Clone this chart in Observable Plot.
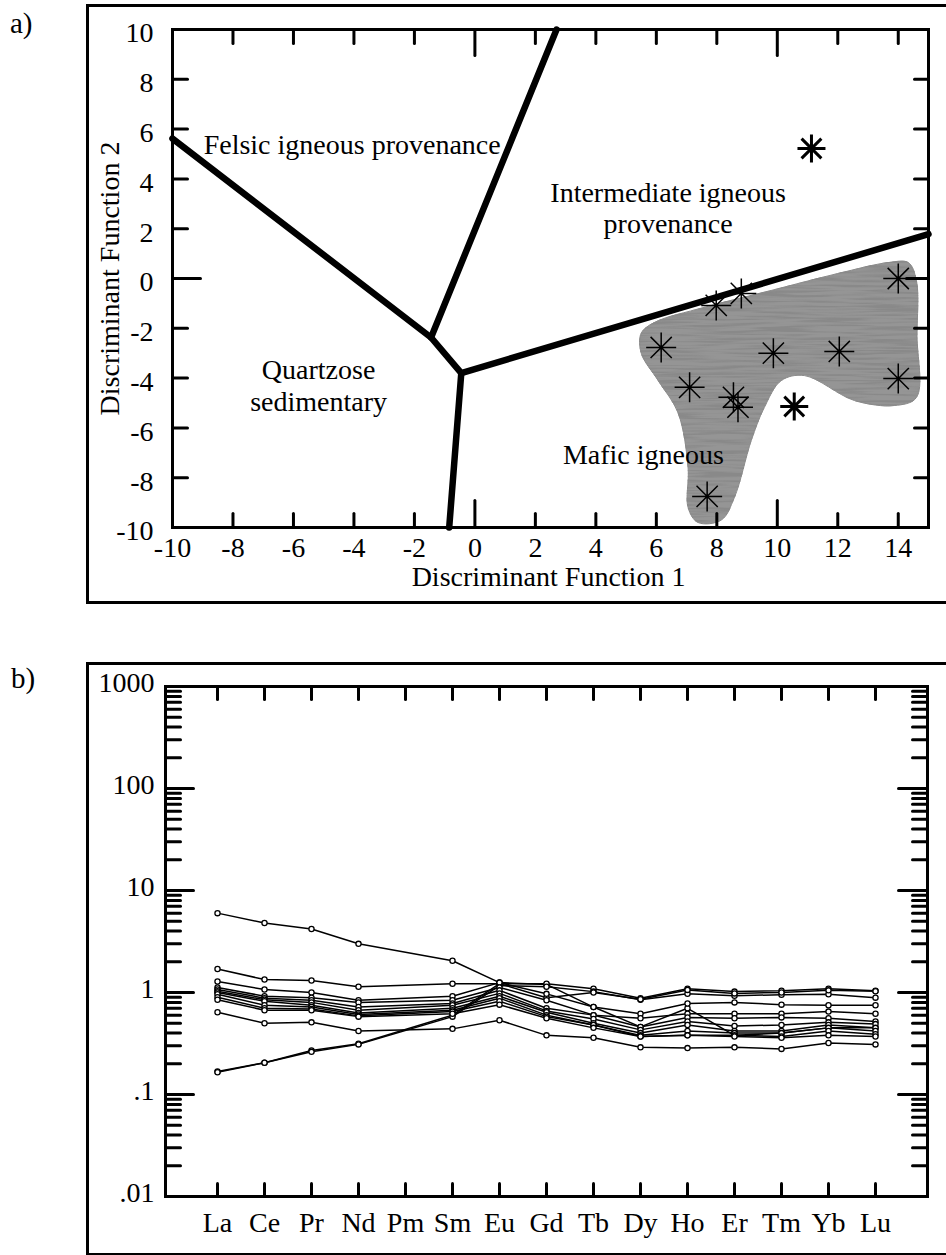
<!DOCTYPE html>
<html>
<head>
<meta charset="utf-8">
<script src="https://cdn.jsdelivr.net/npm/d3@7"></script>
<script src="https://cdn.jsdelivr.net/npm/@observablehq/plot@0.6"></script>
<style>
  body { margin: 0; background: #fff; }
  #page { position: relative; width: 946px; height: 1255px; overflow: hidden; font-family: "Liberation Serif", "Times New Roman", serif; color: #000; }
  .box { position: absolute; border: 3px solid #000; box-sizing: border-box; }
  .tag { position: absolute; font-size: 29px; line-height: 1; }
  .chart { position: absolute; }
</style>
</head>
<body>
<div id="page">
  <div class="tag" style="left:10px;top:9px">a)</div>
  <div class="box" style="left:86px;top:4px;width:900px;height:600px"></div>
  <div id="chartA" class="chart" style="left:87px;top:5px"></div>
  <div class="tag" style="left:11px;top:664px">b)</div>
  <div class="box" style="left:86px;top:662px;width:900px;height:594px"></div>
  <div id="chartB" class="chart" style="left:87px;top:663px"></div>
</div>
<script>
// ---------------- Panel a data ----------------
const df1Ticks = [-10, -8, -6, -4, -2, 0, 2, 4, 6, 8, 10, 12, 14];
const df2Ticks = [-10, -8, -6, -4, -2, 0, 2, 4, 6, 8, 10];
const df1Major = [-10, 0, 10];
const df2Major = [-10, 0, 10];

// field boundaries (polylines in discriminant-function space)
const boundaryId = [0, 0, 0, 0, 1, 1, 2, 2];
const boundaryF1 = [-10, -1.45, -0.45, 15, -1.45, 2.7, -0.45, -0.85];
const boundaryF2 = [5.62, -2.37, -3.8, 1.78, -2.37, 10, -3.8, -10];

// shaded sample field outline
const fieldF1 = [5.93, 7.58, 9.8, 12.0, 13.67, 14.33, 14.6, 14.62, 14.6, 13.87, 12.55, 10.9, 10.13, 9.57, 9.14, 8.58, 8.15, 7.38, 7.05, 7.05, 6.72, 6.06, 5.5, 5.5];
const fieldF2 = [-1.77, -1.16, -0.48, 0.2, 0.64, 0.64, -0.08, -2.3, -4.78, -5.1, -4.9, -3.9, -4.1, -5.18, -6.5, -8.8, -9.7, -9.8, -9.2, -7.6, -5.4, -4.1, -3.0, -2.2];

// samples inside the shaded field
const inF1 = [14.0, 8.81, 7.98, 6.16, 9.87, 12.05, 14.0, 7.1, 8.55, 8.7, 7.68];
const inF2 = [0.0, -0.6, -1.08, -2.77, -3.0, -2.93, -4.02, -4.37, -4.77, -5.17, -8.75];
// samples outside the shaded field
const outF1 = [11.13, 10.56];
const outF2 = [5.22, -5.14];

const regionNames = ["Felsic igneous provenance", "Mafic igneous", "Intermediate igneous\nprovenance", "Quartzose\nsedimentary"];
const regionF1 = [-8.97, 2.91, 6.39, -5.17];
const regionF2 = [5.37, -7.08, 2.85, -4.27];

// ---------------- Panel b data ----------------
const elements = ["La", "Ce", "Pr", "Nd", "Pm", "Sm", "Eu", "Gd", "Tb", "Dy", "Ho", "Er", "Tm", "Yb", "Lu"];
const sample01 = [6.0, 4.8, 4.2, 3.0, null, 2.05, 1.25, 1.2, 0.72, 0.46, 0.70, 0.38, 0.40, 0.45, 0.45];
const sample02 = [0.168, 0.205, 0.27, 0.315, null, 0.60, 1.22, 1.22, 1.09, 0.88, 1.09, 1.02, 1.04, 1.09, 1.04];
const sample03 = [0.165, 0.205, 0.262, 0.31, null, 0.58, 1.17, 1.14, 1.02, 0.85, 0.97, 0.93, 0.95, 0.96, 0.89];
const sample04 = [1.7, 1.34, 1.31, 1.14, null, 1.22, 1.22, 0.89, 1.0, 0.86, 1.06, 0.98, 1.0, 1.05, 1.03];
const sample05 = [0.64, 0.50, 0.51, 0.42, null, 0.44, 0.535, 0.38, 0.36, 0.29, 0.285, 0.29, 0.28, 0.32, 0.31];
const sample06 = [1.28, 1.07, 1.0, 0.84, null, 0.92, 1.25, 0.97, 0.72, 0.62, 0.78, 0.80, 0.76, 0.75, 0.75];
const sample07 = [1.12, 0.92, 0.89, 0.80, null, 0.84, 1.12, 0.84, 0.60, 0.56, 0.62, 0.62, 0.62, 0.65, 0.62];
const sample08 = [1.07, 0.88, 0.84, 0.72, null, 0.78, 1.05, 0.70, 0.60, 0.46, 0.57, 0.56, 0.57, 0.56, 0.52];
const sample09 = [1.03, 0.85, 0.80, 0.67, null, 0.75, 0.98, 0.66, 0.55, 0.43, 0.52, 0.47, 0.48, 0.51, 0.49];
const sample10 = [1.0, 0.82, 0.75, 0.63, null, 0.70, 0.92, 0.64, 0.50, 0.40, 0.48, 0.42, 0.42, 0.48, 0.45];
const sample11 = [0.96, 0.75, 0.72, 0.61, null, 0.67, 0.88, 0.60, 0.48, 0.38, 0.42, 0.40, 0.40, 0.45, 0.42];
const sample12 = [0.90, 0.70, 0.69, 0.59, null, 0.65, 0.82, 0.58, 0.48, 0.37, 0.38, 0.38, 0.37, 0.42, 0.39];
const sample13 = [0.85, 0.67, 0.67, 0.58, null, 0.62, 0.76, 0.56, 0.45, 0.37, 0.38, 0.37, 0.36, 0.38, 0.37];
const logTicks = [0.01, 0.1, 1, 10, 100, 1000];

// ---------------- helpers ----------------
const tickShape = { draw(ctx, l) { ctx.moveTo(0, 0); ctx.lineTo(0, -l); } };
const star8 = {
  draw(ctx, size) {
    const r = Math.sqrt(size / Math.PI), d = r * Math.SQRT1_2;
    ctx.moveTo(-r, 0); ctx.lineTo(r, 0);
    ctx.moveTo(0, -r); ctx.lineTo(0, r);
    ctx.moveTo(-d, -d); ctx.lineTo(d, d);
    ctx.moveTo(-d, d); ctx.lineTo(d, -d);
  }
};
function ticksX(values, len, side) {
  return Plot.vector(values, { x: d => d, frameAnchor: side, length: len, rotate: side === "bottom" ? 0 : 180, anchor: "start", shape: tickShape, stroke: "black", strokeWidth: 3 });
}
function ticksY(values, len, side) {
  return Plot.vector(values, { y: d => d, frameAnchor: side, length: len, rotate: side === "left" ? 90 : -90, anchor: "start", shape: tickShape, stroke: "black", strokeWidth: 3 });
}

// ---------------- Panel a ----------------
const FIELD_GRAY = "#959595";
const boundary = boundaryF1.map((x, i) => ({ id: boundaryId[i], x, y: boundaryF2[i] }));
const field = fieldF1.map((x, i) => ({ x, y: fieldF2[i] }));
const df1Minor = df1Ticks.filter(t => !df1Major.includes(t));
const df2Minor = df2Ticks.filter(t => !df2Major.includes(t));

const chartA = Plot.plot({
  width: 859, height: 597,
  marginLeft: 85, marginTop: 24, marginRight: 18, marginBottom: 75,
  x: { domain: [-10, 15] },
  y: { domain: [-10, 10] },
  style: { fontFamily: "Liberation Serif, Times New Roman, serif", fontSize: "28px", color: "black", background: "transparent", overflow: "visible" },
  marks: [
    Plot.line(field, { x: "x", y: "y", curve: "catmull-rom-closed", fill: FIELD_GRAY, stroke: "#8a8a8a", strokeWidth: 1 }),
    Plot.line(boundary, { x: "x", y: "y", z: "id", stroke: "black", strokeWidth: 6.5, strokeLinejoin: "miter" }),
    Plot.text(regionNames.slice(0, 2), { x: regionF1.slice(0, 2), y: regionF2.slice(0, 2), textAnchor: "start", lineAnchor: "middle", fill: "black" }),
    Plot.text(regionNames.slice(2), { x: regionF1.slice(2), y: regionF2.slice(2), textAnchor: "middle", lineAnchor: "middle", lineHeight: 1.12, fill: "black" }),
    Plot.dot(inF1, { x: inF1, y: inF2, symbol: star8, r: 15, fill: "none", stroke: "black", strokeWidth: 1.5 }),
    Plot.dot(outF1, { x: outF1, y: outF2, symbol: star8, r: 14, fill: "none", stroke: "black", strokeWidth: 3 }),
    Plot.frame({ stroke: "black", strokeWidth: 3 }),
    ticksX(df1Minor, 14, "bottom"), ticksX(df1Major, 27, "bottom"),
    ticksX(df1Minor, 14, "top"), ticksX(df1Major, 26, "top"),
    ticksY(df2Minor, 15, "left"), ticksY(df2Major, 28, "left"),
    ticksY(df2Minor, 14, "right"), ticksY(df2Major, 22, "right"),
    Plot.axisX({ ticks: df1Ticks, tickSize: 0, tickPadding: 10, tickFormat: d => String(d), label: null }),
    Plot.axisY({ ticks: df2Ticks, tickSize: 0, tickPadding: 19, dy: 4, tickFormat: d => String(d), label: null }),
    Plot.text(["Discriminant Function 1"], { frameAnchor: "bottom", dy: 50, dx: -2, textAnchor: "middle", lineAnchor: "middle", fill: "black" }),
    Plot.text(["Discriminant Function 2"], { frameAnchor: "left", dx: -62, rotate: -90, textAnchor: "middle", lineAnchor: "middle", fill: "black" })
  ]
});

// streaky texture for the shaded field
{
  const svg = d3.select(chartA);
  const defs = svg.insert("defs", ":first-child");
  const f = defs.append("filter").attr("id", "streaks").attr("x", "-5%").attr("y", "-5%").attr("width", "110%").attr("height", "110%");
  f.append("feTurbulence").attr("type", "fractalNoise").attr("baseFrequency", "0.018 0.4").attr("numOctaves", 2).attr("seed", 7).attr("result", "noise");
  f.append("feColorMatrix").attr("in", "noise").attr("type", "matrix")
    .attr("values", "0 0 0 0 0.25  0 0 0 0 0.25  0 0 0 0 0.25  3.6 0 0 0 -1.45").attr("result", "dark");
  f.append("feComposite").attr("in", "dark").attr("in2", "SourceGraphic").attr("operator", "in").attr("result", "clipped");
  const m = f.append("feMerge");
  m.append("feMergeNode").attr("in", "SourceGraphic");
  m.append("feMergeNode").attr("in", "clipped");
  svg.selectAll("[fill]").filter(function () { return this.getAttribute("fill") === FIELD_GRAY; }).attr("filter", "url(#streaks)");
}
document.getElementById("chartA").append(chartA);

// ---------------- Panel b ----------------
const samples = [sample01, sample02, sample03, sample04, sample05, sample06, sample07, sample08, sample09, sample10, sample11, sample12, sample13];
const ree = samples.flatMap((vals, s) => vals.map((v, i) => ({ sample: s, el: elements[i], v })).filter(d => d.v != null));
const minorLog = [];
for (const decade of [0.01, 0.1, 1, 10, 100]) for (let m = 2; m <= 9; m++) minorLog.push(+(decade * m).toPrecision(3));

const chartB = Plot.plot({
  width: 859, height: 590,
  marginLeft: 78, marginTop: 23, marginRight: 19, marginBottom: 57,
  x: { type: "point", domain: elements, padding: 1 },
  y: { type: "log", domain: [0.01, 1000] },
  style: { fontFamily: "Liberation Serif, Times New Roman, serif", fontSize: "28px", color: "black", background: "transparent", overflow: "visible" },
  marks: [
    Plot.line(ree, { x: "el", y: "v", z: "sample", stroke: "black", strokeWidth: 1.5 }),
    Plot.dot(ree, { x: "el", y: "v", r: 2.6, fill: "white", stroke: "black", strokeWidth: 1.3 }),
    Plot.frame({ stroke: "black", strokeWidth: 3 }),
    ticksX(elements, 13, "bottom"), ticksX(elements, 13, "top"),
    ticksY(minorLog, 15, "left"), ticksY(logTicks, 28, "left"),
    ticksY(minorLog, 15, "right"), ticksY(logTicks, 29, "right"),
    Plot.axisX({ ticks: elements, tickSize: 0, tickPadding: 16, label: null }),
    Plot.axisY({ ticks: logTicks, tickSize: 0, tickPadding: 11, dy: -3, label: null,
      tickFormat: d => d >= 1 ? String(d) : String(d).replace(/^0/, "") })
  ]
});
document.getElementById("chartB").append(chartB);
</script>
</body>
</html>
